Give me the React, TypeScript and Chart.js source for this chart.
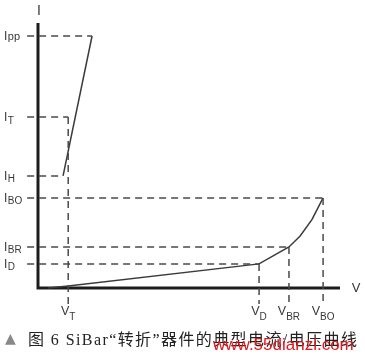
import React, { useEffect, useRef } from 'react';
import { Chart, registerables } from 'chart.js';
Chart.register(...registerables);

// Current levels on the I axis (subscript name, value, where the dashed guide ends on V)
const currentSubs = ['pp', 'T', 'H', 'BO', 'BR', 'D'];
const currentValues = [95.1, 64.5, 42.3, 34, 15.5, 9.1];
const currentGuideEnds = [17.9, 10, 8.3, 94.4, 83.1, 73.2];

// Voltage levels on the V axis (subscript name, value, where the dashed guide starts on I)
const voltageSubs = ['T', 'D', 'BR', 'BO'];
const voltageValues = [10, 73.2, 83.1, 94.4];
const voltageGuideTops = [64.5, 9.1, 15.5, 34];

// On-state branch (after breakover)
const onStateV = [8.3, 17.9];
const onStateI = [42.3, 95.1];

// Off-state / breakdown branch
const offStateV = [3.3, 10, 73.2, 83.1, 86.8, 90.7, 94.4];
const offStateI = [0, 0.8, 9.1, 15.5, 19.6, 25.8, 34];

const captionText = '图 6 SiBar“转折”器件的典型电流/电压曲线';
const watermarkText = 'www.55dianzi.com';

const labelPlugin = {
  id: 'ivLabels',
  afterDatasetsDraw(chart: any) {
    const ctx: CanvasRenderingContext2D = chart.ctx;
    const xs = chart.scales.x;
    const ys = chart.scales.y;
    ctx.save();
    ctx.fillStyle = '#383838';
    ctx.textBaseline = 'alphabetic';
    ctx.textAlign = 'left';
    // I-axis labels
    currentSubs.forEach((sub, i) => {
      const y = ys.getPixelForValue(currentValues[i]);
      ctx.font = '12px "Liberation Sans"';
      ctx.fillText('I', 4, y + 4);
      const w = ctx.measureText('I').width;
      if (sub === 'pp') {
        ctx.font = '11px "Liberation Sans"';
        ctx.fillText(sub, 4 + w + 0.5, y + 4);
      } else {
        ctx.font = '10px "Liberation Sans"';
        ctx.fillText(sub, 4 + w + 0.5, y + 6.5);
      }
    });
    // V-axis labels
    voltageSubs.forEach((sub, i) => {
      const x = xs.getPixelForValue(voltageValues[i]);
      ctx.font = '12.5px "Liberation Sans"';
      const wv = ctx.measureText('V').width;
      ctx.font = '10px "Liberation Sans"';
      const ws = ctx.measureText(sub).width;
      const left = x - (wv + ws) / 2;
      ctx.font = '12.5px "Liberation Sans"';
      ctx.fillText('V', left, 315);
      ctx.font = '10px "Liberation Sans"';
      ctx.fillText(sub, left + wv, 319.5);
    });
    // Axis names
    ctx.textAlign = 'center';
    ctx.font = '14px "Liberation Sans"';
    ctx.fillText('I', xs.getPixelForValue(0) + 1, 15);
    ctx.font = '13px "Liberation Sans"';
    ctx.fillText('V', 356, 292);

    // Caption
    ctx.textAlign = 'left';
    ctx.fillStyle = '#888';
    ctx.font = '14px "DejaVu Sans"';
    ctx.fillText('▲', 5, 343);
    ctx.fillStyle = '#222';
    ctx.font = '16px "Liberation Serif", "Noto Sans CJK SC"';
    const natural = ctx.measureText(captionText).width;
    const chars = Array.from(captionText).length;
    const spacing = (357 - 28 - natural) / (chars - 1);
    (ctx as any).letterSpacing = spacing.toFixed(2) + 'px';
    ctx.fillText(captionText, 28, 345);
    (ctx as any).letterSpacing = '0px';

    // Watermark
    ctx.fillStyle = '#e3161c';
    ctx.font = '17px "Liberation Sans"';
    ctx.fillText(watermarkText, 213, 350);
    ctx.restore();
  },
};

export default function App() {
  const ref = useRef<HTMLCanvasElement | null>(null);
  useEffect(() => {
    if (!ref.current) return;
    const dashColor = '#4a4a4a';
    const datasets: any[] = [];
    currentValues.forEach((v, i) => {
      datasets.push({
        data: [{ x: -3.6, y: v }, { x: currentGuideEnds[i], y: v }],
        showLine: true, borderColor: dashColor, borderWidth: 1.5, borderDash: [7, 5],
        pointRadius: 0, clip: false,
      });
    });
    voltageValues.forEach((v, i) => {
      datasets.push({
        data: [{ x: v, y: voltageGuideTops[i] }, { x: v, y: i === 0 ? -7 : -6 }],
        showLine: true, borderColor: dashColor, borderWidth: 1.5, borderDash: [7, 5],
        pointRadius: 0, clip: false,
      });
    });
    datasets.push({
      data: onStateV.map((x, i) => ({ x, y: onStateI[i] })),
      showLine: true, borderColor: '#3a3a3a', borderWidth: 1.5, pointRadius: 0, clip: false,
    });
    datasets.push({
      data: offStateV.map((x, i) => ({ x, y: offStateI[i] })),
      showLine: true, borderColor: '#3a3a3a', borderWidth: 1.5, pointRadius: 0, clip: false,
    });
    datasets.push({
      data: [{ x: 0, y: 100 }, { x: 0, y: 0 }, { x: 100, y: 0 }],
      showLine: true, borderColor: '#1c1c1c', borderWidth: 3, pointRadius: 0, clip: false,
      borderJoinStyle: 'miter',
    });

    const chart = new Chart(ref.current, {
      type: 'scatter',
      data: { datasets },
      options: {
        animation: false,
        responsive: false,
        maintainAspectRatio: false,
        layout: { padding: { left: 25.92, right: 25, top: 23, bottom: 46.8 } },
        scales: {
          x: { type: 'linear', min: -4, max: 100, display: false },
          y: { type: 'linear', min: -8, max: 100, display: false },
        },
        plugins: { legend: { display: false }, tooltip: { enabled: false } },
      },
      plugins: [labelPlugin],
    } as any);
    return () => chart.destroy();
  }, []);
  return (
    <div style={{ position: 'absolute', left: 0, top: 0, width: 365, height: 356, background: '#fff' }}>
      <canvas ref={ref} width={365} height={356} style={{ display: 'block', width: 365, height: 356 }} />
    </div>
  );
}
